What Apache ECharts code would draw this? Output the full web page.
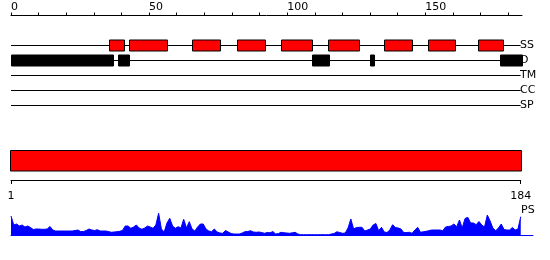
<!DOCTYPE html>
<html><head><meta charset="utf-8">
<script src="https://cdn.jsdelivr.net/npm/echarts@6/dist/echarts.min.js"></script>
<style>html,body{margin:0;padding:0;background:#fff}#c{width:550px;height:260px}</style>
</head><body><div id="c"></div>
<script>
// ---- data ----
const trackNames = ['SS', 'D', 'TM', 'CC', 'SP'];
const ssSegments = [[35.6,40.8],[42.8,56.5],[65.6,75.7],[81.9,92.1],[97.7,109.0],[114.8,126.0],[135.1,145.0],[150.8,160.9],[169.1,178.3]];
const dSegments = [[0,36.8],[38.7,42.9],[108.8,115.0],[129.9,131.3],[176.9,185]];
const trackLineRange = [0, 184.5];
const topTickValues = [0,10,20,30,40,50,60,70,80,90,100,110,120,130,140,150,160,170,180];
const topLabelValues = [0, 50, 100, 150];
const seqRange = [1, 184];
const bottomLabelValues = [1, 184];
const psLabel = 'PS';
const psValues = [
  19, 10, 11, 9, 10, 8, 9, 7.5, 5.5, 6,
  6, 5.7, 5.7, 6, 8.5, 5, 4, 4, 4, 4,
  4, 4, 4, 4.5, 5, 3.5, 3.5, 4.5, 6, 5,
  4.5, 5.3, 4, 4, 4, 3.5, 2.7, 3, 3.3, 3.7,
  4.5, 9, 9, 6.7, 8, 10, 7, 5.7, 7, 9,
  8, 6.7, 10, 21.7, 6, 3, 12, 16.7, 9, 6.7,
  8.3, 7, 15.7, 7, 13.3, 6, 4, 8, 11, 11,
  6, 4, 3.3, 6, 3, 2, 1.7, 4.5, 3, 1.5,
  1, 1, 1, 2, 3.3, 3.5, 4.3, 3, 2.7, 3,
  2.5, 1.7, 2.5, 2.2, 3.5, 1, 1.5, 2.7, 2.2, 2,
  1.7, 2.2, 2.7, 1, 0.3, 0.3, 0.3, 0.3, 0.3, 0.3,
  0.3, 0.3, 0.3, 0.3, 0.3, 1, 1.5, 3.2, 2.5, 1.7,
  2, 7, 16, 6, 7.5, 7.7, 7.7, 4, 5, 6,
  10, 11.5, 4.3, 7.7, 3, 2.5, 5, 10.3, 7.5, 7,
  6, 2.5, 2.5, 2.7, 1.7, 5, 7.7, 2.7, 3.2, 3.7,
  4.3, 5, 5, 5, 5, 4.3, 8, 8.5, 9, 11,
  8.3, 15, 7, 16.5, 17.7, 12, 12, 10.3, 13.5, 10,
  8, 20, 14, 7, 4.3, 7, 11, 5.5, 5, 5,
  7.5, 5, 6, 18.3
];

// ---- chart ----
const FONT = 'DejaVu Sans';
const chart = echarts.init(document.getElementById('c'), null, { renderer: 'canvas' });

function boxRender(fill, stroke, h) {
  return function (params, api) {
    const p0 = api.coord([api.value(0), api.value(2)]);
    const p1 = api.coord([api.value(1), api.value(2)]);
    const x0 = Math.round(p0[0]) + 0.5, x1 = Math.round(p1[0]) + 0.5;
    return {
      type: 'rect',
      shape: { x: x0, y: p0[1] - h / 2, width: x1 - x0, height: h },
      style: { fill: fill, stroke: stroke, lineWidth: 1 }
    };
  };
}

const ssData = ssSegments.map(s => [s[0], s[1], trackNames.indexOf('SS')]);
const dData = dSegments.map(s => [s[0], s[1], trackNames.indexOf('D')]);
const lineData = trackNames.map((n, i) => [trackLineRange[0], trackLineRange[1], i]);

chart.setOption({
  animation: false,
  backgroundColor: '#ffffff',
  textStyle: { fontFamily: FONT },
  grid: [
    { left: 11, top: 45.5, width: 511, height: 60 },
    { left: 11, top: 150, width: 509.7, height: 30 },
    { left: 11, top: 213, width: 522, height: 22 }
  ],
  xAxis: [
    {
      gridIndex: 0, type: 'value', min: 0, max: 185, position: 'top', offset: 30,
      axisLine: { show: true, lineStyle: { color: '#000', width: 1 } },
      axisTick: { show: true, inside: false, length: 3, customValues: topTickValues, lineStyle: { color: '#000' } },
      axisLabel: { show: true, customValues: topLabelValues, align: 'left', margin: 3, fontSize: 11, fontFamily: FONT, color: '#000' },
      splitLine: { show: false }
    },
    {
      gridIndex: 1, type: 'value', min: seqRange[0], max: seqRange[1], position: 'bottom',
      axisLine: { show: true, lineStyle: { color: '#000', width: 1 } },
      axisTick: { show: true, inside: false, length: 4, customValues: bottomLabelValues, lineStyle: { color: '#000' } },
      axisLabel: { show: true, customValues: bottomLabelValues, margin: 11, fontSize: 11, fontFamily: FONT, color: '#000' },
      splitLine: { show: false }
    },
    {
      gridIndex: 2, type: 'value', min: seqRange[0], max: 188.4,
      axisLine: { show: true, lineStyle: { color: '#0000ff', width: 1 } },
      axisTick: { show: false }, axisLabel: { show: false }, splitLine: { show: false }
    }
  ],
  yAxis: [
    {
      gridIndex: 0, type: 'category', data: trackNames, inverse: true, boundaryGap: false, position: 'right',
      axisLine: { show: false }, axisTick: { show: false },
      axisLabel: { show: true, margin: -2, fontSize: 11, fontFamily: FONT, color: '#000' },
      splitLine: { show: false }
    },
    { gridIndex: 1, type: 'value', min: 0, max: 1, show: false },
    { gridIndex: 2, type: 'value', min: 0, max: 22, show: false }
  ],
  graphic: [
    { type: 'text', left: 521, top: 205, style: { text: psLabel, font: '11px "DejaVu Sans"', fill: '#000' } }
  ],
  series: [
    {
      type: 'custom', xAxisIndex: 0, yAxisIndex: 0, data: lineData, clip: false,
      renderItem: function (params, api) {
        const p0 = api.coord([api.value(0), api.value(2)]);
        const p1 = api.coord([api.value(1), api.value(2)]);
        return { type: 'line', shape: { x1: p0[0], y1: p0[1], x2: p1[0], y2: p1[1] }, style: { stroke: '#000', lineWidth: 1 } };
      }
    },
    { type: 'custom', xAxisIndex: 0, yAxisIndex: 0, data: ssData, clip: false, renderItem: boxRender('#ff0000', '#000', 11) },
    { type: 'custom', xAxisIndex: 0, yAxisIndex: 0, data: dData, clip: false, renderItem: boxRender('#000', '#000', 11) },
    {
      type: 'custom', xAxisIndex: 1, yAxisIndex: 1, data: [[seqRange[0], seqRange[1]]], clip: false,
      renderItem: function (params, api) {
        const p0 = api.coord([api.value(0), 1]);
        const p1 = api.coord([api.value(1), 1]);
        const x0 = Math.round(p0[0]) - 0.5, x1 = Math.round(p1[0]) + 0.5;
        return { type: 'rect', shape: { x: x0, y: p0[1] + 0.5, width: x1 - x0, height: 20.5 }, style: { fill: '#ff0000', stroke: '#000', lineWidth: 1 } };
      }
    },
    {
      type: 'line', xAxisIndex: 2, yAxisIndex: 2,
      data: psValues.map((v, i) => [i + 1, v]),
      symbol: 'none', smooth: false,
      lineStyle: { color: '#0000ff', width: 1 },
      areaStyle: { color: '#0000ff', opacity: 1 }
    }
  ]
});
</script>
</body></html>
